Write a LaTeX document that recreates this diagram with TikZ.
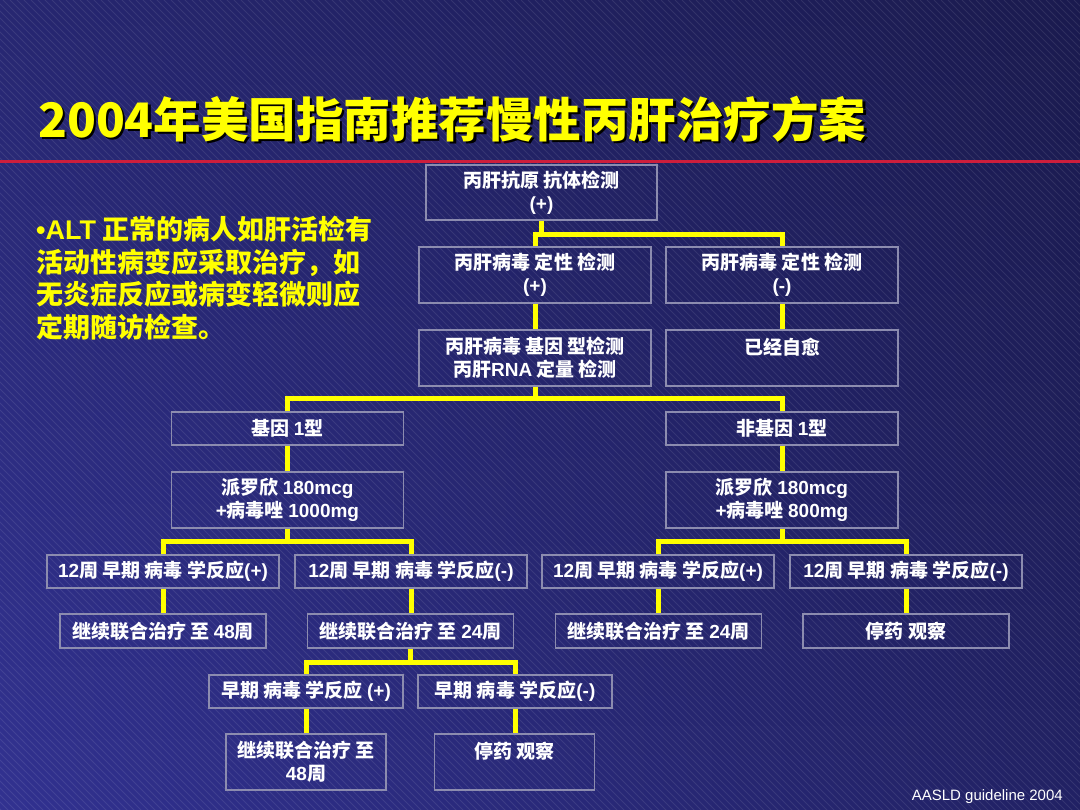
\documentclass[tikz,border=0pt]{standalone}
\usepackage{fontspec}
\setmainfont{Noto Sans CJK SC}
\newfontfamily\arialf{Liberation Sans}
\newcommand\la[1]{{\arialf #1}}
\usetikzlibrary{fadings}
\definecolor{bgleft}{RGB}{50,50,145}
\definecolor{bgright}{RGB}{34,34,100}
\definecolor{yel}{RGB}{255,255,0}
\definecolor{boxc}{RGB}{140,140,175}
\definecolor{redl}{RGB}{205,30,60}
\begin{document}
\begin{tikzpicture}[x=1pt,y=-1pt,
  box/.style={draw=boxc, line width=1.1pt, text=white, font=\fontsize{19}{23}\selectfont\bfseries, align=center, inner sep=0pt},
  bigbox/.style={box, minimum width=232pt, minimum height=56pt},
  smallbox/.style={box, minimum width=232pt, minimum height=33pt},
  gbox/.style={box, minimum width=206pt, minimum height=34pt},
  hbox/.style={box, minimum width=194pt, minimum height=33pt},
  ibox/.style={box, minimum width=160pt, minimum height=56pt},
  conn/.style={draw=yel, line width=5pt, line join=miter}]
\useasboundingbox (0,0) rectangle (1080,810);
\begin{scope}
\clip (0,0) rectangle (1080,810);
\shade[left color=bgleft, right color=bgright] (-10,-10) rectangle (1090,820);
\fill[black, path fading=south, fill opacity=0.22] (-10,-10) rectangle (1090,820);
\foreach \i in {-830,-823,...,1080} \draw[white, opacity=0.09, line width=0.8pt] (\i,0) -- ++(830,830);
\end{scope}
% title
\node[anchor=west, text=black, font=\fontsize{47.5}{50}\selectfont\bfseries, inner sep=0pt] (titleshadow) at (40.5,121.5) {2004年美国指南推荐慢性丙肝治疗方案};
\node[anchor=west, text=yel, font=\fontsize{47.5}{50}\selectfont\bfseries, inner sep=0pt] (title) at (38,119) {2004年美国指南推荐慢性丙肝治疗方案};
\fill[redl] (0,160.5) rectangle (1080,163.5);
% note
\node[anchor=north west, align=left, text=yel, font=\fontsize{27}{32.5}\selectfont\bfseries, inner sep=0pt] (note) at (36,216) {\la{•ALT} 正常的病人如肝活检有\\活动性病变应采取治疗，如\\无炎症反应或病变轻微则应\\定期随访检查。};
% boxes
\node[bigbox, minimum width=231pt, minimum height=55pt] (A) at (541.5,192.5) {丙肝抗原 抗体检测\\\la{(+)}};
\node[bigbox] (B1) at (535,275) {丙肝病毒 定性 检测\\\la{(+)}};
\node[bigbox] (B2) at (782,275) {丙肝病毒 定性 检测\\\la{(-)}};
\node[bigbox] (C1) at (535,358) {丙肝病毒 基因 型检测\\丙肝\la{RNA} 定量 检测};
\node[bigbox] (C2) at (782,358) {已经自愈\\\phantom{x}};
\node[smallbox] (D1) at (287.5,428.5) {基因 \la{1}型};
\node[smallbox] (D2) at (782,428.5) {非基因 \la{1}型};
\node[bigbox] (E1) at (287.5,500) {派罗欣 \la{180mcg}\\\la{+}病毒唑 \la{1000mg}};
\node[bigbox] (E2) at (782,500) {派罗欣 \la{180mcg}\\\la{+}病毒唑 \la{800mg}};
\node[smallbox] (F1) at (163,571.5) {\la{12}周 早期 病毒 学反应\la{(+)}};
\node[smallbox] (F2) at (411,571.5) {\la{12}周 早期 病毒 学反应\la{(-)}};
\node[smallbox] (F3) at (658,571.5) {\la{12}周 早期 病毒 学反应\la{(+)}};
\node[smallbox] (F4) at (906,571.5) {\la{12}周 早期 病毒 学反应\la{(-)}};
\node[gbox] (G1) at (163,631) {继续联合治疗 至 \la{48}周};
\node[gbox] (G2) at (410.5,631) {继续联合治疗 至 \la{24}周};
\node[gbox] (G3) at (658.5,631) {继续联合治疗 至 \la{24}周};
\node[gbox] (G4) at (906,631) {停药 观察};
\node[hbox] (H1) at (306,691.5) {早期 病毒 学反应 \la{(+)}};
\node[hbox] (H2) at (515,691.5) {早期 病毒 学反应\la{(-)}};
\node[ibox] (I1) at (306,762) {继续联合治疗 至\\\la{48}周};
\node[ibox] (I2) at (514.5,762) {停药 观察\\\phantom{x}};
% connectors
\coordinate (jA) at (541.5,235);
\coordinate (jC) at (535,399);
\coordinate (jE1) at (287.5,541);
\coordinate (jE2) at (782,541);
\coordinate (jG) at (410.5,662);
\draw[conn] (A.south) -- (jA);
\draw[conn] (B1.north) |- (jA) -| (B2.north);
\draw[conn] (B1.south) -- (C1.north);
\draw[conn] (B2.south) -- (C2.north);
\draw[conn] (C1.south) -- (jC);
\draw[conn] (D1.north) |- (jC) -| (D2.north);
\draw[conn] (D1.south) -- (E1.north);
\draw[conn] (D2.south) -- (E2.north);
\draw[conn] (E1.south) -- (jE1);
\draw[conn] (F1.north) |- (jE1) -| (F2.north);
\draw[conn] (E2.south) -- (jE2);
\draw[conn] (F3.north) |- (jE2) -| (F4.north);
\draw[conn] (F1.south) -- (F1.south |- G1.north);
\draw[conn] (F2.south) -- (F2.south |- G2.north);
\draw[conn] (F3.south) -- (F3.south |- G3.north);
\draw[conn] (F4.south) -- (F4.south |- G4.north);
\draw[conn] (G2.south) -- (jG);
\draw[conn] (H1.north) |- (jG) -| (H2.north);
\draw[conn] (H1.south) -- (I1.north);
\draw[conn] (H2.south) -- (H2.south |- I2.north);
% source
\node[anchor=east, text=white, font=\arialf\fontsize{15}{18}\selectfont, inner sep=0pt] (src) at (1063,797) {AASLD guideline 2004};
\end{tikzpicture}
\end{document}
